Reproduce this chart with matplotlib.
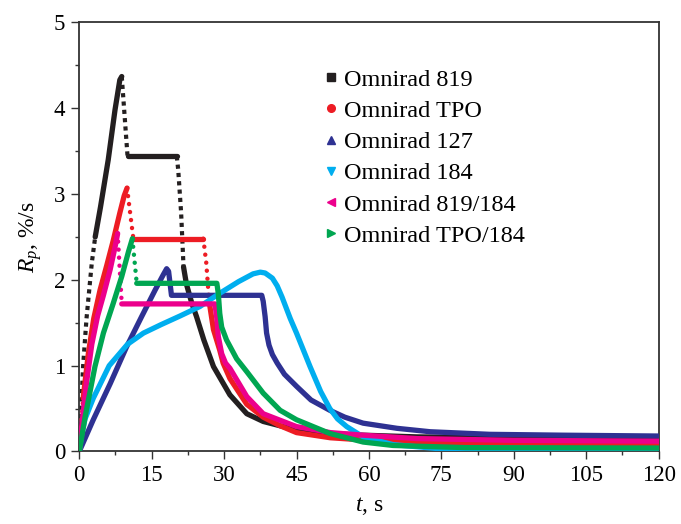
import matplotlib
matplotlib.use("Agg")
import matplotlib.pyplot as plt
from matplotlib.lines import Line2D
from matplotlib.ticker import MultipleLocator

# ---------------- data ----------------
labels = ["Omnirad 819", "Omnirad TPO", "Omnirad 127", "Omnirad 184",
          "Omnirad 819/184", "Omnirad TPO/184"]

t_819 = [0, 0.4, 0.8, 1.5, 2.6, 3.3, 4.4, 6.0, 7.4, 8.4, 8.8, 10.0, 15, 20.2, 20.5,
         21.1, 21.6, 22.2, 23.3, 24.3, 25.8, 27.8, 31.2, 34.7, 38.1, 45, 52, 58.8,
         70, 90, 120]
r_819 = [0, 0.5, 1.0, 1.55, 2.2, 2.5, 2.85, 3.4, 3.98, 4.33, 4.37, 3.44, 3.44, 3.44,
         3.28, 2.78, 2.15, 1.95, 1.73, 1.57, 1.3, 0.99, 0.66, 0.44, 0.35, 0.25, 0.21,
         0.19, 0.17, 0.16, 0.155]

t_tpo = [0, 0.8, 1.9, 3.0, 4.3, 5.7, 7.0, 8.4, 9.3, 9.9, 11.2, 18, 25.7, 26.3, 26.9,
         27.8, 29.1, 29.8, 31.2, 34.7, 38.1, 41.6, 45, 52, 60, 75, 120]
r_tpo = [0, 0.62, 1.15, 1.55, 1.88, 2.17, 2.45, 2.78, 2.98, 3.07, 2.48, 2.48, 2.48, 2.2,
         1.75, 1.42, 1.18, 1.03, 0.85, 0.55, 0.4, 0.3, 0.22, 0.16, 0.13, 0.1, 0.09]

t_127 = [0, 2.9, 6.4, 9.8, 12.9, 15.7, 17.4, 18.1, 18.5, 19.1, 28, 37.8, 38.1, 38.5, 38.8,
         39.3, 40.0, 41.0, 42.5, 45, 48, 51.9, 55, 58.8, 65.8, 72.7, 85, 100, 120]
r_127 = [0, 0.37, 0.79, 1.22, 1.57, 1.88, 2.06, 2.13, 2.1, 1.82, 1.82, 1.82, 1.75, 1.57,
         1.38, 1.24, 1.13, 1.03, 0.9, 0.76, 0.6, 0.48, 0.4, 0.33, 0.27, 0.23, 0.2, 0.19, 0.18]

t_184 = [0, 0.5, 1.2, 2.9, 6.2, 10, 13.3, 17, 20.9, 25, 29, 33, 36, 37.5, 38.5, 40, 41,
         42, 43.7, 45, 47.8, 50, 51.9, 53.5, 55.4, 58.8, 65, 75, 90, 120]
r_184 = [0, 0.2, 0.38, 0.62, 1.0, 1.25, 1.38, 1.48, 1.58, 1.69, 1.84, 1.98, 2.07, 2.09,
         2.08, 2.02, 1.93, 1.8, 1.55, 1.38, 0.99, 0.7, 0.5, 0.38, 0.29, 0.17, 0.08, 0.03,
         0.015, 0.01]

t_819_184 = [0, 0.8, 1.5, 2.6, 3.8, 5.0, 6.4, 7.4, 7.95, 8.8, 18, 28.1, 28.5, 28.8, 29.5,
             30.3, 31.2, 34.7, 38.1, 45, 52, 58.8, 70, 90, 120]
r_819_184 = [0, 0.45, 0.8, 1.25, 1.58, 1.82, 2.12, 2.38, 2.54, 1.72, 1.72, 1.72, 1.55, 1.34,
             1.14, 1.03, 0.97, 0.64, 0.44, 0.29, 0.22, 0.19, 0.15, 0.13, 0.12]

t_tpo_184 = [0, 1.2, 3.25, 5.0, 7.0, 8.8, 10.2, 11.0, 11.9, 20, 28.5, 28.8, 29.1, 29.5,
             30.5, 32.6, 34.7, 38.1, 41.6, 45, 51.9, 58.8, 65, 80, 120]
r_tpo_184 = [0, 0.4, 0.99, 1.38, 1.72, 2.04, 2.33, 2.48, 1.96, 1.96, 1.96, 1.84, 1.61,
             1.45, 1.3, 1.08, 0.93, 0.68, 0.48, 0.37, 0.21, 0.11, 0.07, 0.045, 0.04]

x_ticks = [0, 15, 30, 45, 60, 75, 90, 105, 120]
y_ticks = [0, 1, 2, 3, 4, 5]

# ---------------- styles ----------------
series = [
    (t_819, r_819, dict(color="#231f20", marker="s", cap="butt", dotted=[(0, 5), (10, 11), (13, 16)])),
    (t_tpo, r_tpo, dict(color="#ed1c24", marker="o", cap="round", dotted=[(0, 1), (9, 10), (12, 14)])),
    (t_127, r_127, dict(color="#2e3192", marker="^", cap="round", dotted=[])),
    (t_184, r_184, dict(color="#00aeef", marker="v", cap="round", dotted=[])),
    (t_819_184, r_819_184, dict(color="#ec008c", marker="<", cap="round", dotted=[(8, 9)])),
    (t_tpo_184, r_tpo_184, dict(color="#00a651", marker=">", cap="round", dotted=[(7, 8)])),
]

plt.rcParams["font.family"] = ["Liberation Serif", "DejaVu Serif"]
plt.rcParams["mathtext.fontset"] = "custom"
plt.rcParams["mathtext.rm"] = "Liberation Serif"
plt.rcParams["mathtext.it"] = "Liberation Serif:italic"

fig = plt.figure(figsize=(6.81, 5.24), dpi=100)
ax = fig.add_axes([0.1164, 0.1384, 0.8507, 0.8187])

LW = 3.8
for z, (t, r, st) in enumerate(series):
    n = len(t)
    dotted_seg = set()
    for a, b in st["dotted"]:
        for k in range(a, b):
            dotted_seg.add(k)
    k = 0
    while k < n - 1:
        kind = k in dotted_seg
        j = k
        while j < n - 1 and ((j in dotted_seg) == kind):
            j += 1
        xs, ys = t[k:j + 1], r[k:j + 1]
        if kind:
            if st["cap"] == "butt":
                ax.plot(xs, ys, color=st["color"], lw=3.0, linestyle=(0, (1.0, 1.0)),
                        dash_capstyle="butt", zorder=2 + z)
            else:
                ax.plot(xs, ys, color=st["color"], lw=3.2, linestyle=(0, (0.01, 1.8)),
                        dash_capstyle="round", zorder=2 + z)
        else:
            ax.plot(xs, ys, color=st["color"], lw=LW, solid_capstyle="round",
                    solid_joinstyle="round", zorder=2 + z)
        k = j

ax.set_xlim(0, 120)
ax.set_ylim(0, 5)
ax.set_xticks(x_ticks)
ax.set_yticks(y_ticks)
ax.xaxis.set_minor_locator(MultipleLocator(7.5))
ax.yaxis.set_minor_locator(MultipleLocator(0.5))
ax.tick_params(which="both", direction="out", top=False, right=False,
               labelsize=16.5, color="#333333", width=1.0, pad=4)
ax.tick_params(which="major", length=6)
ax.tick_params(which="minor", length=3)
for sp in ax.spines.values():
    sp.set_color("#333333")
    sp.set_linewidth(1.3)

ax.set_xlabel(r"$t$, s", fontsize=17, labelpad=6)
ax.set_ylabel(r"$R_p$, %/s", fontsize=17, labelpad=7)

handles = [Line2D([], [], color=st["color"], marker=st["marker"], linestyle="none",
                  markersize=5.5) for _, _, st in series]
ax.legend(handles, labels, loc="upper left", bbox_to_anchor=(0.405, 0.915),
          frameon=False, fontsize=17.5, handlelength=0.6, handletextpad=0.25,
          labelspacing=0.38, borderaxespad=0.0)

fig.savefig("out.png", dpi=100)
